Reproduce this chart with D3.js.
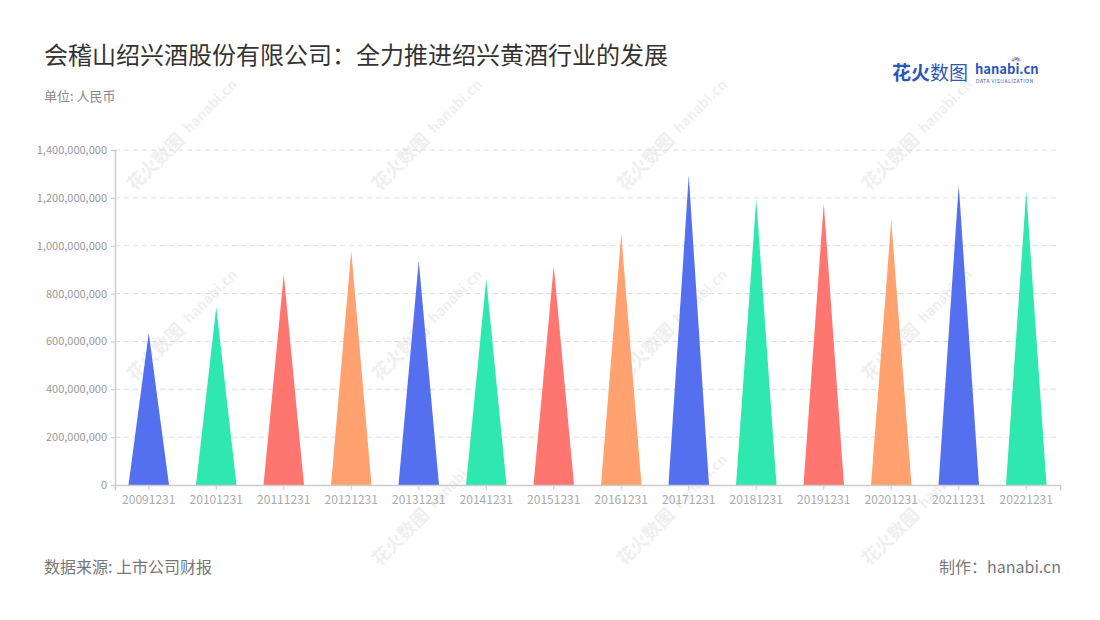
<!DOCTYPE html>
<html><head><meta charset="utf-8">
<script src="https://cdn.jsdelivr.net/npm/d3@7/dist/d3.min.js"></script>
<style>body{margin:0;background:#fff;font-family:"Noto Sans CJK SC","Noto Sans",sans-serif;}</style>
</head><body><svg id="c" width="1100" height="620"></svg>
<script>
const categories = ["20091231","20101231","20111231","20121231","20131231","20141231","20151231","20161231","20171231","20181231","20191231","20201231","20211231","20221231"];
const values = [635000000,744000000,880000000,979000000,936000000,861000000,915000000,1049000000,1293000000,1194000000,1177000000,1107000000,1254000000,1229000000];
const yTicks = [0,200000000,400000000,600000000,800000000,1000000000,1200000000,1400000000];
const palette = ["#5470ee","#2ee8b0","#ff7670","#ffa270"];

const svg = d3.select("#c");
const font = '"Noto Sans CJK SC","Noto Sans",sans-serif';
const L = 115, R = 1060, T = 150, B = 485;
const x = d3.scaleBand().domain(categories).range([L, R]);
const y = d3.scaleLinear().domain([0, 1400000000]).range([B, T]);

// watermarks
const wm = svg.append("g").attr("fill", "#efefef").attr("font-family", font);
[[150,165],[395,165],[640,165],[885,165],[150,355],[395,355],[640,355],[885,355],[395,540],[640,540],[885,540]].forEach(([cx,cy],i)=>{
  const g = wm.append("g").attr("transform", `translate(${cx},${cy}) rotate(-45)`);
  g.append("text").attr("x",-30).attr("y",8).attr("font-size",18).attr("font-weight","bold").text("花火数图");
  g.append("text").attr("x",50).attr("y",6).attr("font-size",14).attr("font-weight","bold").text("hanabi.cn");
});

// grid
svg.append("g").selectAll("line").data(yTicks.slice(1)).join("line")
  .attr("x1", L).attr("x2", R).attr("y1", d=>y(d)).attr("y2", d=>y(d))
  .attr("stroke", "#dcdcdc").attr("stroke-dasharray", "5,4");

// triangles
const bw = x.bandwidth()*0.6;
svg.append("g").selectAll("path").data(values).join("path")
  .attr("d", (d,i)=>{
    const cx = x(categories[i]) + x.bandwidth()/2;
    return `M${cx-bw/2},${y(0)}L${cx},${y(d)}L${cx+bw/2},${y(0)}Z`;
  })
  .attr("fill", (d,i)=>palette[i%4]);

// y axis
const ya = svg.append("g").attr("transform", `translate(${L},0)`)
  .call(d3.axisLeft(y).tickValues(yTicks).tickFormat(d3.format(",")).tickSize(4).tickPadding(4));
ya.select(".domain").attr("stroke", "#cccccc").attr("stroke-width", 1.5);
ya.selectAll(".tick line").attr("stroke", "#cccccc");
ya.selectAll("text").attr("fill", "#999").attr("font-size", 11).attr("font-family", font);

// x axis
const xa = svg.append("g").attr("transform", `translate(0,${B})`)
  .call(d3.axisBottom(x).tickSize(5).tickPadding(5));
xa.select(".domain").attr("stroke", "#cccccc").attr("stroke-width", 1.5);
xa.selectAll(".tick line").attr("stroke", "#cccccc");
xa.selectAll("text").attr("fill", "#aaa").attr("font-size", 12).attr("font-family", font);

// titles
svg.append("text").attr("x", 44).attr("y", 64).attr("font-size", 24).attr("fill", "#333").attr("font-family", font)
  .text("会稽山绍兴酒股份有限公司：全力推进绍兴黄酒行业的发展");
svg.append("text").attr("x", 44).attr("y", 101).attr("font-size", 13).attr("fill", "#888").attr("font-family", font)
  .text("单位: 人民币");
svg.append("text").attr("x", 44).attr("y", 573).attr("font-size", 16).attr("fill", "#777").attr("font-family", font)
  .text("数据来源: 上市公司财报");
svg.append("text").attr("x", 1061).attr("y", 573).attr("text-anchor", "end").attr("font-size", 16).attr("fill", "#777").attr("font-family", font)
  .text("制作：hanabi.cn");

// logo
const lg = svg.append("g").attr("font-family", font);
lg.append("text").attr("x", 892).attr("y", 80).attr("font-size", 19).attr("font-weight", "bold").attr("fill", "#2f57b8").text("花火");
lg.append("text").attr("x", 930).attr("y", 80).attr("font-size", 19).attr("fill", "#2f57b8").text("数图");
lg.append("text").attr("x", 975).attr("y", 74).attr("font-size", 13).attr("font-weight", "bold").attr("fill", "#2f57b8").text("hanabi.cn");
lg.append("text").attr("x", 976).attr("y", 83).attr("font-size", 5).attr("fill", "#2f57b8").attr("letter-spacing", 0.5).text("DATA VISUALIZATION");
const sp = lg.append("g").attr("transform", "translate(1016,62)");
["#ff5c5c","#ffb03a","#3ad1a0","#5a8cff","#c66bff","#ff8bd1"].forEach((c,i)=>{
  const a = -Math.PI/2 + (i-2.5)*0.45;
  sp.append("line").attr("x1", Math.cos(a)*2).attr("y1", Math.sin(a)*2).attr("x2", Math.cos(a)*5).attr("y2", Math.sin(a)*5).attr("stroke", c).attr("stroke-width", 1.5);
});
</script></body></html>
